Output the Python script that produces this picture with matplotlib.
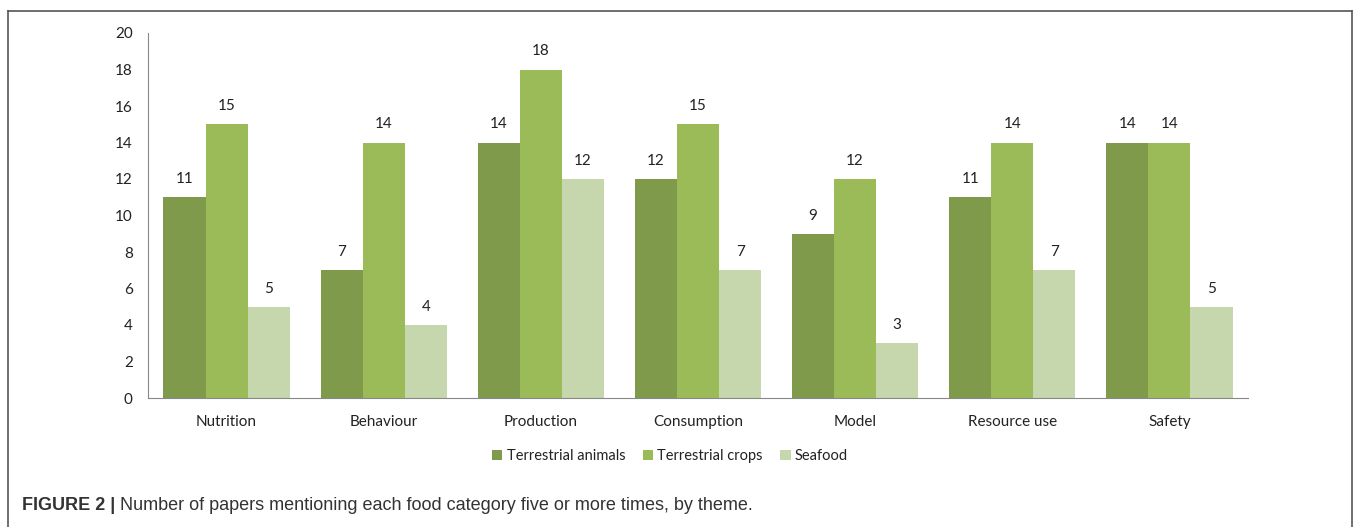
import matplotlib
matplotlib.use("Agg")
import matplotlib.pyplot as plt
import numpy as np
from matplotlib.lines import Line2D

categories = ["Nutrition", "Behaviour", "Production", "Consumption", "Model", "Resource use", "Safety"]
series_names = ["Terrestrial animals", "Terrestrial crops", "Seafood"]
animals = [11, 7, 14, 12, 9, 11, 14]
crops = [15, 14, 18, 15, 12, 14, 14]
seafood = [5, 4, 12, 7, 3, 7, 5]
colors = ["#7f9a4a", "#9bbb59", "#c6d7ae"]
yticks = [0, 2, 4, 6, 8, 10, 12, 14, 16, 18, 20]

W, H = 1360, 527
fig = plt.figure(figsize=(W / 100, H / 100), dpi=100)
font = "Lato"
fs = 11

ax = fig.add_axes([148 / W, 1 - 398 / H, 1100 / W, 365 / H])
x = np.arange(len(categories))
bw = 0.268
for i, (vals, name, c) in enumerate(zip([animals, crops, seafood], series_names, colors)):
    pos = x + (i - 1) * bw
    bars = ax.bar(pos, vals, width=bw, color=c, label=name, zorder=2)
    for b, v in zip(bars, vals):
        ax.annotate(str(v), (b.get_x() + b.get_width() / 2, v), xytext=(0, 8),
                    textcoords="offset points", ha="center", va="bottom",
                    fontsize=fs, family=font, color="#222222")

ax.set_xlim(-0.5, len(categories) - 0.5)
ax.set_ylim(0, 20)
ax.set_yticks(yticks)
ax.set_xticks(x)
ax.set_xticklabels(categories, fontsize=fs, family=font, color="#222222")
for lab in ax.get_yticklabels():
    lab.set_family(font)
    lab.set_fontsize(fs)
    lab.set_color("#222222")
ax.tick_params(axis="both", length=0)
ax.tick_params(axis="y", pad=11)
ax.tick_params(axis="x", pad=12)
for s in ["top", "right"]:
    ax.spines[s].set_visible(False)
ax.spines["left"].set_color("#888888")
ax.spines["bottom"].set_color("#888888")

leg = fig.legend(loc="center", bbox_to_anchor=(670 / W, 1 - 456 / H), ncol=3, frameon=False,
                 prop={"family": font, "size": 10.5}, handlelength=0.7, handleheight=0.7,
                 handletextpad=0.3, columnspacing=1.2)
for t in leg.get_texts():
    t.set_color("#222222")

# border
fig.add_artist(Line2D([8 / W, 8 / W], [0, 1 - 11 / H], transform=fig.transFigure, color="#555555", lw=1.2))
fig.add_artist(Line2D([8 / W, 1352 / W], [1 - 11 / H, 1 - 11 / H], transform=fig.transFigure, color="#555555", lw=1.2))
fig.add_artist(Line2D([1352 / W, 1352 / W], [0, 1 - 11 / H], transform=fig.transFigure, color="#555555", lw=1.2))

# caption
cy = 1 - 505 / H
t1 = fig.text(22 / W, cy, "FIGURE 2 |", fontsize=13, fontweight="bold",
              family="Liberation Sans", color="#333333", va="center")
fig.canvas.draw()
bb = t1.get_window_extent()
fig.text((bb.x1 + 5) / W, cy, "Number of papers mentioning each food category five or more times, by theme.",
         fontsize=13, family="Liberation Sans", color="#333333", va="center")

fig.savefig("out.png", dpi=100)
